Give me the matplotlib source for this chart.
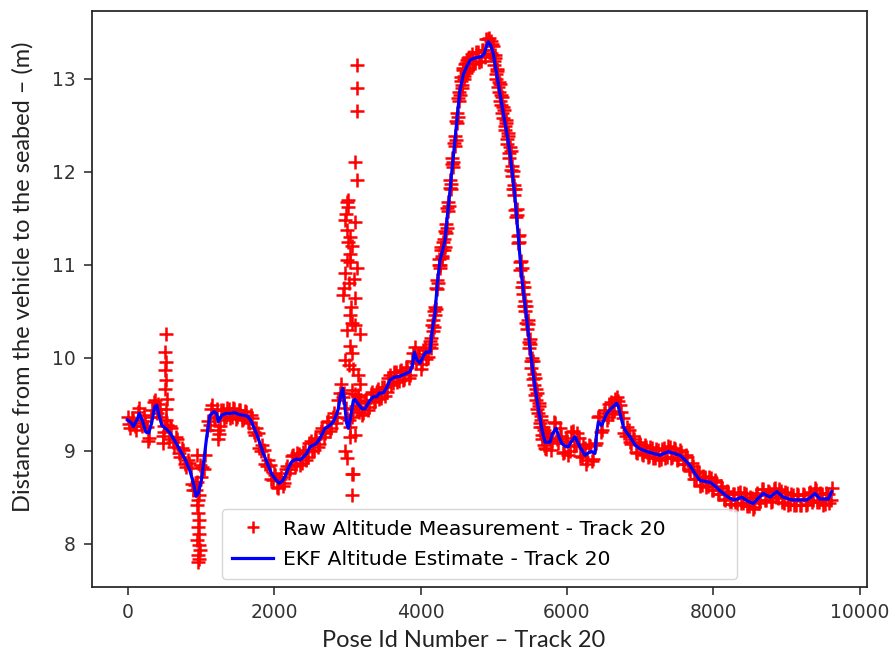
"""
Altitude above seabed - raw DVL measurement vs EKF estimate, Track 20
"""

import numpy as np
import matplotlib.pyplot as plt

# EKF altitude estimate (knots)
ekf_pose = [0, 50, 80, 130, 160, 200, 250, 290, 330, 370, 400, 430, 470, 520, 580,
            650, 720, 790, 850, 900, 935, 970, 1013, 1050, 1081, 1126, 1180, 1215,
            1240, 1286, 1340, 1400, 1460, 1520, 1581, 1640, 1680, 1720, 1763, 1810,
            1854, 1910, 1968, 2020, 2072, 2110, 2150, 2200, 2241, 2300, 2355, 2400,
            2446, 2491, 2583, 2640, 2696, 2760, 2810, 2850, 2878, 2910, 2938, 2965,
            2990, 3015, 3050, 3083, 3106, 3151, 3200, 3242, 3300, 3356, 3402, 3440,
            3492, 3540, 3584, 3640, 3720, 3800, 3857, 3890, 3916, 3950, 3993, 4040,
            4075, 4130, 4160, 4198, 4230, 4266, 4300, 4334, 4370, 4403, 4437, 4471,
            4505, 4539, 4585, 4630, 4676, 4721, 4780, 4835, 4870, 4900, 4926, 4960,
            4994, 5040, 5085, 5120, 5154, 5190, 5222, 5255, 5290, 5336, 5381, 5450,
            5510, 5560, 5610, 5660, 5700, 5768, 5800, 5850, 5890, 5927, 5970, 6018,
            6060, 6109, 6140, 6177, 6246, 6300, 6337, 6382, 6400, 6428, 6473, 6542,
            6600, 6678, 6700, 6724, 6769, 6810, 6860, 6930, 6997, 7088, 7180, 7270,
            7383, 7460, 7543, 7610, 7679, 7750, 7816, 7880, 7952, 8020, 8089, 8180,
            8271, 8330, 8385, 8460, 8543, 8600, 8680, 8771, 8863, 8953, 9068, 9180,
            9272, 9330, 9386, 9454, 9520, 9568, 9613]
ekf_alt = [9.33, 9.30, 9.26, 9.33, 9.40, 9.33, 9.20, 9.19, 9.30, 9.47, 9.49, 9.38, 9.27,
           9.24, 9.19, 9.10, 9.00, 8.90, 8.79, 8.65, 8.51, 8.55, 8.70, 8.95, 9.15, 9.38,
           9.42, 9.40, 9.31, 9.38, 9.40, 9.40, 9.41, 9.39, 9.38, 9.37, 9.33, 9.26, 9.18,
           9.07, 8.97, 8.86, 8.75, 8.69, 8.65, 8.67, 8.72, 8.82, 8.88, 8.91, 8.90, 8.93,
           8.97, 9.04, 9.08, 9.15, 9.24, 9.27, 9.31, 9.38, 9.45, 9.60, 9.67, 9.50, 9.30,
           9.24, 9.38, 9.54, 9.55, 9.50, 9.45, 9.45, 9.53, 9.58, 9.58, 9.62, 9.62, 9.68,
           9.76, 9.79, 9.80, 9.83, 9.85, 9.92, 10.06, 9.98, 9.94, 10.02, 10.06, 10.06,
           10.30, 10.48, 10.80, 11.05, 11.15, 11.26, 11.55, 11.80, 12.08, 12.34, 12.62,
           12.88, 13.05, 13.13, 13.20, 13.22, 13.23, 13.24, 13.27, 13.35, 13.40, 13.36,
           13.27, 13.05, 12.84, 12.68, 12.52, 12.36, 12.20, 11.97, 11.73, 11.30, 10.87,
           10.42, 10.00, 9.70, 9.45, 9.22, 9.09, 9.09, 9.18, 9.24, 9.15, 9.08, 9.05,
           9.04, 9.10, 9.15, 9.10, 9.04, 8.95, 8.98, 8.99, 8.97, 9.15, 9.31, 9.27, 9.40,
           9.45, 9.51, 9.48, 9.40, 9.26, 9.20, 9.15, 9.06, 9.02, 8.99, 8.97, 8.95, 8.99,
           8.97, 8.95, 8.90, 8.84, 8.75, 8.68, 8.67, 8.66, 8.62, 8.57, 8.51, 8.47, 8.48,
           8.50, 8.46, 8.43, 8.48, 8.54, 8.50, 8.56, 8.50, 8.47, 8.47, 8.47, 8.50, 8.54,
           8.48, 8.48, 8.48, 8.56]

# raw altitude measurements, sampled in blocks: (first pose, step, values)
raw_a_start, raw_a_step = 0, 40
raw_a_alt = [9.36, 9.24, 9.33, 9.22, 9.46, 9.27, 9.32, 9.10, 9.36, 9.52,
             9.41, 9.45, 9.16, 9.33, 9.13, 9.24, 9.04, 9.12, 8.93, 9.01,
             8.82, 8.87, 8.64, 8.63, 8.47, 8.72, 8.80, 9.22, 9.28, 9.49,
             9.35, 9.22, 9.44, 9.33, 9.46, 9.35, 9.46, 9.34, 9.44, 9.33,
             9.43, 9.31, 9.38, 9.20, 9.24, 9.03, 9.06, 8.86, 8.90, 8.70,
             8.76, 8.61, 8.70, 8.62, 8.80, 8.76, 8.94, 8.84, 8.97, 8.85,
             8.99, 8.90, 9.08, 9.00, 9.13, 9.04, 9.21, 9.15, 9.31, 9.21,
             9.36, 9.30, 9.55, 9.72, 9.62, 9.35, 9.25, 9.45, 9.48, 9.42,
             9.38, 9.51, 9.44, 9.61, 9.52, 9.64, 9.56, 9.68, 9.59, 9.78,
             9.71, 9.85, 9.74, 9.86, 9.76, 9.89, 9.78, 9.96, 10.12, 10.04,
             9.88, 10.08, 9.99, 10.12]
raw_a2_start, raw_a2_step = 20, 40
raw_a2_alt = [9.29, 9.35, 9.26, 9.42, 9.30, 9.38, 9.25, 9.14, 9.44, 9.55,
              9.50, 9.36, 9.20, 9.28, 9.27, 9.09, 9.15, 8.97, 9.03, 8.86,
              8.90, 8.81, 8.58, 8.58, 8.52, 8.82, 8.95, 9.32, 9.45, 9.36,
              9.45, 9.27, 9.44, 9.36, 9.45, 9.36, 9.45, 9.36, 9.44, 9.34,
              9.42, 9.30, 9.35, 9.17, 9.19, 9.00, 9.01, 8.83, 8.85, 8.68,
              8.74, 8.60, 8.72, 8.65, 8.84, 8.80, 8.95, 8.86, 8.96, 8.87,
              9.01, 8.93, 9.10, 9.01, 9.14, 9.07, 9.24, 9.19, 9.32, 9.24,
              9.40, 9.36, 9.62, 9.58, 9.46, 9.33, 9.36, 9.61, 9.58, 9.53,
              9.40, 9.54, 9.47, 9.63, 9.53, 9.66, 9.57, 9.69, 9.63, 9.81,
              9.73, 9.85, 9.75, 9.87, 9.77, 9.90, 9.81, 10.05, 9.94, 10.01,
              9.93, 10.10, 10.01, 10.21]

raw_b_start, raw_b_step = 4135, 15
raw_b_alt = [10.18, 10.15, 10.41, 10.33, 10.55, 10.52, 10.84, 10.80, 11.06, 11.00,
             11.19, 11.09, 11.28, 11.19, 11.44, 11.40, 11.68, 11.63, 11.91, 11.87,
             12.15, 12.11, 12.38, 12.34, 12.63, 12.59, 12.86, 12.83, 13.02, 12.93,
             13.12, 13.03, 13.17, 13.08, 13.22, 13.13]
raw_b2_start, raw_b2_step = 4142, 15
raw_b2_alt = [10.10, 10.35, 10.29, 10.50, 10.46, 10.75, 10.74, 11.00, 10.96, 11.16,
              11.07, 11.25, 11.16, 11.36, 11.34, 11.61, 11.58, 11.83, 11.81, 12.08,
              12.05, 12.31, 12.28, 12.55, 12.53, 12.79, 12.76, 12.98, 12.90, 13.09,
              13.00, 13.16, 13.06, 13.20, 13.11, 13.24]

raw_c_start, raw_c_step = 4700, 40
raw_c_alt = [13.27, 13.17, 13.29, 13.19, 13.31, 13.43, 13.44]
raw_c2_start, raw_c2_step = 4720, 40
raw_c2_alt = [13.16, 13.29, 13.18, 13.31, 13.24, 13.43]

raw_d_start, raw_d_step = 4960, 15
raw_d_alt = [13.41, 13.26, 13.35, 13.15, 13.22, 13.00, 13.08, 12.86, 12.94, 12.72,
             12.81, 12.58, 12.67, 12.45, 12.53, 12.30, 12.39, 12.15, 12.22, 11.96,
             12.01, 11.75, 11.81, 11.51, 11.53, 11.23, 11.25, 10.94, 10.96, 10.69,
             10.76, 10.50, 10.56, 10.31, 10.36, 10.10, 10.15, 9.89, 9.96, 9.71,
             9.78, 9.55, 9.62, 9.40, 9.48, 9.25, 9.33, 9.12, 9.22, 9.03, 9.15]
raw_d2_start, raw_d2_step = 4967, 15
raw_d2_alt = [13.28, 13.37, 13.19, 13.26, 13.05, 13.11, 12.91, 12.97, 12.76, 12.83,
              12.63, 12.70, 12.49, 12.56, 12.35, 12.42, 12.20, 12.27, 12.02, 12.06,
              11.81, 11.86, 11.59, 11.60, 11.31, 11.32, 11.03, 11.04, 10.76, 10.81,
              10.56, 10.61, 10.37, 10.41, 10.17, 10.20, 9.96, 10.00, 9.77, 9.82,
              9.60, 9.66, 9.45, 9.51, 9.30, 9.37, 9.17, 9.25, 9.06, 9.17,
              9.02]

raw_e_start, raw_e_step = 5740, 40
raw_e_alt = [9.19, 9.01, 9.31, 9.12, 9.24, 8.97, 9.14, 8.95, 9.20, 9.05,
             9.19, 8.94, 9.07, 8.86, 9.06, 8.89, 9.06, 9.36, 9.20, 9.41,
             9.33, 9.50, 9.39, 9.56, 9.53, 9.42, 9.19, 9.25, 9.09, 9.16,
             8.99, 9.09, 8.96, 9.06, 8.93, 9.04, 8.92, 9.02, 8.90, 9.02,
             8.92, 9.05, 8.92, 9.03, 8.90, 9.01, 8.86, 8.95, 8.80, 8.87,
             8.70, 8.78, 8.62, 8.73, 8.61, 8.72, 8.58, 8.68, 8.53, 8.62,
             8.48, 8.57, 8.43, 8.53, 8.41, 8.54, 8.44, 8.54, 8.40, 8.50,
             8.37, 8.52, 8.44, 8.59, 8.47, 8.57, 8.45, 8.59, 8.50, 8.59,
             8.45, 8.55, 8.42, 8.53, 8.41, 8.53, 8.41, 8.53, 8.41, 8.54,
             8.45, 8.60, 8.45, 8.54, 8.42, 8.54, 8.44, 8.60]
raw_e2_start, raw_e2_step = 5760, 40
raw_e2_alt = [9.14, 9.10, 9.30, 9.08, 9.16, 8.99, 9.10, 9.00, 9.21, 9.06,
              9.14, 8.93, 9.03, 8.90, 9.05, 8.91, 9.08, 9.37, 9.22, 9.44,
              9.36, 9.52, 9.43, 9.58, 9.49, 9.35, 9.16, 9.22, 9.07, 9.12,
              8.98, 9.07, 8.95, 9.04, 8.94, 9.03, 8.92, 9.01, 8.91, 9.03,
              8.93, 9.04, 8.93, 9.02, 8.91, 8.99, 8.86, 8.93, 8.78, 8.84,
              8.69, 8.76, 8.63, 8.72, 8.62, 8.71, 8.58, 8.66, 8.53, 8.60,
              8.47, 8.56, 8.43, 8.53, 8.43, 8.55, 8.44, 8.53, 8.40, 8.49,
              8.39, 8.54, 8.46, 8.59, 8.47, 8.56, 8.46, 8.60, 8.49, 8.57,
              8.44, 8.54, 8.43, 8.52, 8.42, 8.52, 8.42, 8.52, 8.43, 8.55,
              8.47, 8.58, 8.45, 8.53, 8.43, 8.53, 8.47]

# outlier returns (spikes around pose 500, 960, 1240 and 3000)
outlier_pose = [520, 510, 530, 515, 525, 505, 535, 520, 500, 490,
                955, 965, 975, 960, 980, 950, 970, 985, 960, 975, 965, 955, 945, 990,
                1235, 1250,
                3129, 3129, 3129, 3106, 3129, 3015, 3015, 2969, 3106, 2993,
                3015, 3038, 3038, 3129, 2969, 2946, 3106, 3038, 3061, 3174,
                3038, 2969, 3083, 3151, 3174, 3061, 3151,
                2980, 3000, 3040, 3060, 2990, 3020, 3050, 3000, 3070, 3030,
                2960, 3110, 3090,
                3038, 3106, 2969, 2993, 3061, 3083, 3061]
outlier_alt = [10.26, 10.06, 9.95, 9.87, 9.76, 9.66, 9.56, 9.45, 9.26, 9.08,
               8.42, 8.33, 8.25, 8.18, 8.10, 8.04, 7.98, 7.93, 7.88, 7.83, 7.80, 8.66,
               8.95, 8.85,
               9.12, 9.18,
               13.15, 12.90, 12.65, 12.11, 11.91, 11.70, 11.62, 11.48, 11.46, 11.37,
               11.25, 11.12, 11.03, 10.96, 10.91, 10.67, 10.64, 10.46, 10.37, 10.26,
               10.13, 9.97, 9.88, 9.81, 9.72, 9.65, 9.60,
               11.55, 11.68, 11.30, 11.20, 11.05, 10.80, 10.55, 10.30, 10.05, 9.92,
               10.75, 10.35, 10.85,
               9.15, 9.17, 9.00, 8.92, 8.75, 8.75, 8.52]


def raw_block(start, step, values):
    pose = start + step * np.arange(len(values))
    return pose, np.array(values)


def main():
    blocks = [raw_block(raw_a_start, raw_a_step, raw_a_alt),
              raw_block(raw_a2_start, raw_a2_step, raw_a2_alt),
              raw_block(raw_b_start, raw_b_step, raw_b_alt),
              raw_block(raw_b2_start, raw_b2_step, raw_b2_alt),
              raw_block(raw_c_start, raw_c_step, raw_c_alt),
              raw_block(raw_c2_start, raw_c2_step, raw_c2_alt),
              raw_block(raw_d_start, raw_d_step, raw_d_alt),
              raw_block(raw_d2_start, raw_d2_step, raw_d2_alt),
              raw_block(raw_e_start, raw_e_step, raw_e_alt),
              raw_block(raw_e2_start, raw_e2_step, raw_e2_alt),
              (np.array(outlier_pose), np.array(outlier_alt))]
    raw_pose = np.concatenate([b[0] for b in blocks])
    raw_alt = np.concatenate([b[1] for b in blocks])

    fig = plt.figure(figsize=(8.96, 6.58), dpi=100)
    ax = fig.add_axes([92 / 896, 71 / 658, 775 / 896, 576 / 658])

    ax.plot(raw_pose, raw_alt, "r+", markersize=10, markeredgewidth=1.8,
            label="Raw Altitude Measurement - Track 20")
    ax.plot(ekf_pose, ekf_alt, "b-", linewidth=2.3,
            label="EKF Altitude Estimate - Track 20")

    ax.set_xlim(-485, 10096)
    ax.set_ylim(7.533, 13.73)
    ax.set_xticks([0, 2000, 4000, 6000, 8000, 10000])
    ax.set_yticks([8, 9, 10, 11, 12, 13])

    for s in ax.spines.values():
        s.set_linewidth(1.25)
        s.set_color("#222222")
    ax.tick_params(length=5.5, width=1.2, color="#333333", labelsize=13.5,
                   labelcolor="#333333", pad=6)

    ax.set_xlabel("Pose Id Number \u2013 Track 20", family="Lato", fontsize=17,
                  color="#222222")
    ax.set_ylabel("Distance from the vehicle to the seabed \u2013 (m)", family="Lato",
                  fontsize=17, color="#222222")
    ax.xaxis.set_label_coords(0.48, -0.075)
    ax.yaxis.set_label_coords(-0.076, 0.538)

    ax.legend(loc="lower left", bbox_to_anchor=(0.1677, 0.0139, 0.6645, 0.0),
              mode="expand", borderaxespad=0.0, borderpad=0.5, labelspacing=0.55,
              prop={"family": "DejaVu Sans", "size": 14.7}, handlelength=2.0,
              handletextpad=0.5, markerscale=0.85)

    fig.savefig("out.png", dpi=100)
    plt.close(fig)


if __name__ == "__main__":
    main()
